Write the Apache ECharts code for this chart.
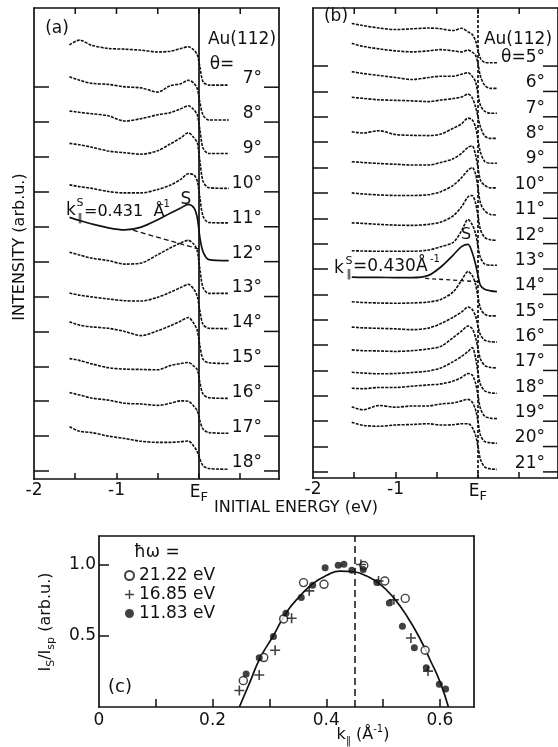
<!DOCTYPE html>
<html>
<head>
<meta charset="utf-8">
<title>Au(112) surface state</title>
<script src="https://cdn.jsdelivr.net/npm/echarts@6/dist/echarts.min.js"></script>
<style>
html, body { margin: 0; padding: 0; background: #fff; }
#chart { width: 558px; height: 747px; }
</style>
</head>
<body>
<div id="chart"></div>
<script>
// ---- panel (a) / (b): energy distribution curves, one per angle ----
// values are in tick units above each curve's own baseline tick
const energyA = [-1.57, -1.45, -1.3, -1.1, -0.9, -0.7, -0.5, -0.35, -0.22, -0.13, -0.06, -0.02, 0.01, 0.05, 0.12, 0.36]
const thetaA = [7, 8, 9, 10, 11, 12, 13, 14, 15, 16, 17, 18]
const specA07 = [1.21, 1.35, 1.20, 1.11, 1.09, 1.06, 1.01, 1.03, 1.11, 1.16, 1.06, 0.92, 0.60, 0.15, 0.06, 0.06]
const specA08 = [1.30, 1.20, 1.11, 1.08, 1.01, 0.98, 0.86, 1.04, 1.10, 1.20, 1.11, 0.95, 0.58, 0.20, 0.06, 0.06]
const specA09 = [1.32, 1.28, 1.24, 1.18, 1.03, 1.10, 1.21, 1.27, 1.38, 1.47, 1.35, 1.20, 0.80, 0.25, 0.10, 0.10]
const specA10 = [1.39, 1.35, 1.28, 1.17, 1.12, 1.08, 1.18, 1.37, 1.55, 1.69, 1.55, 1.40, 0.90, 0.30, 0.12, 0.10]
const specA11 = [1.20, 1.15, 1.10, 1.01, 0.97, 0.97, 1.07, 1.19, 1.36, 1.52, 1.48, 1.30, 0.85, 0.30, 0.12, 0.11]
const specA12 = [1.27, 1.18, 1.08, 0.97, 0.91, 0.99, 1.20, 1.39, 1.54, 1.64, 1.54, 1.25, 0.70, 0.28, 0.06, 0.03]
const specA13 = [1.27, 1.19, 1.10, 1.03, 0.93, 0.96, 1.20, 1.39, 1.54, 1.61, 1.49, 1.30, 0.80, 0.25, 0.09, 0.09]
const specA14 = [1.10, 1.04, 0.99, 0.93, 0.88, 0.87, 0.98, 1.12, 1.26, 1.35, 1.20, 1.00, 0.60, 0.20, 0.09, 0.08]
const specA15 = [1.28, 1.18, 1.13, 1.09, 1.00, 0.88, 1.02, 1.16, 1.30, 1.40, 1.22, 1.02, 0.60, 0.20, 0.10, 0.08]
const specA16 = [1.22, 1.17, 1.07, 0.96, 0.92, 0.91, 0.90, 1.02, 1.08, 1.11, 1.00, 0.90, 0.55, 0.20, 0.10, 0.08]
const specA17 = [1.25, 1.18, 1.09, 1.03, 0.94, 0.92, 0.88, 0.94, 1.01, 1.00, 0.85, 0.72, 0.45, 0.20, 0.10, 0.08]
const specA18 = [1.27, 1.14, 1.10, 1.00, 0.93, 0.85, 0.82, 0.82, 0.84, 0.86, 0.70, 0.55, 0.35, 0.15, 0.07, 0.05]
const spectraA = [specA07, specA08, specA09, specA10, specA11, specA12, specA13, specA14, specA15, specA16, specA17, specA18]
const surfaceThetaA = 12
const backgroundA = [[-0.8, 0.9], [0.0, 0.36]]

const energyB = [-1.53, -1.4, -1.2, -1.0, -0.8, -0.6, -0.45, -0.3, -0.2, -0.12, -0.07, -0.03, 0.0, 0.03, 0.08, 0.15, 0.23]
const thetaB = [5, 6, 7, 8, 9, 10, 11, 12, 13, 14, 15, 16, 17, 18, 19, 20, 21]
const specB05 = [1.68, 1.60, 1.50, 1.44, 1.47, 1.50, 1.47, 1.40, 1.49, 1.35, 1.25, 1.00, 0.65, 0.30, 0.15, 0.13, 0.13]
const specB06 = [1.90, 1.78, 1.68, 1.60, 1.56, 1.60, 1.65, 1.60, 1.56, 1.63, 1.55, 1.43, 1.10, 0.60, 0.25, 0.12, 0.12]
const specB07 = [1.78, 1.71, 1.63, 1.55, 1.47, 1.55, 1.60, 1.60, 1.68, 1.74, 1.60, 1.38, 0.90, 0.45, 0.22, 0.14, 0.14]
const specB08 = [1.77, 1.73, 1.67, 1.65, 1.63, 1.60, 1.66, 1.72, 1.78, 1.90, 1.75, 1.40, 1.00, 0.60, 0.25, 0.15, 0.15]
const specB09 = [1.41, 1.36, 1.45, 1.30, 1.27, 1.26, 1.32, 1.55, 1.72, 1.95, 1.88, 1.60, 1.10, 0.60, 0.25, 0.17, 0.17]
const specB10 = [1.23, 1.20, 1.16, 1.13, 1.10, 1.10, 1.20, 1.35, 1.56, 1.80, 1.85, 1.50, 1.00, 0.50, 0.30, 0.20, 0.20]
const specB11 = [1.00, 0.96, 0.92, 0.90, 0.90, 0.93, 1.05, 1.30, 1.60, 1.90, 2.00, 1.75, 1.20, 0.60, 0.30, 0.15, 0.13]
const specB12 = [0.82, 0.80, 0.76, 0.73, 0.72, 0.76, 0.85, 1.10, 1.45, 1.85, 1.90, 1.60, 1.10, 0.55, 0.25, 0.15, 0.13]
const specB13 = [0.72, 0.71, 0.70, 0.70, 0.70, 0.75, 0.88, 1.05, 1.50, 1.95, 1.75, 1.40, 0.90, 0.45, 0.20, 0.15, 0.15]
const specB14 = [0.68, 0.67, 0.67, 0.66, 0.66, 0.75, 1.08, 1.55, 1.88, 1.97, 1.65, 1.20, 0.75, 0.35, 0.20, 0.14, 0.11]
const specB15 = [0.71, 0.68, 0.66, 0.65, 0.66, 0.70, 0.80, 1.10, 1.55, 1.90, 1.75, 1.40, 0.90, 0.45, 0.22, 0.15, 0.15]
const specB16 = [0.71, 0.68, 0.66, 0.64, 0.61, 0.67, 0.85, 1.10, 1.30, 1.50, 1.40, 1.15, 0.75, 0.40, 0.20, 0.13, 0.12]
const specB17 = [0.81, 0.78, 0.77, 0.75, 0.78, 0.85, 0.95, 1.30, 1.55, 1.75, 1.65, 1.30, 0.85, 0.45, 0.20, 0.12, 0.10]
const specB18 = [0.93, 0.90, 0.87, 0.88, 0.92, 0.98, 1.10, 1.35, 1.55, 1.75, 1.90, 1.50, 0.90, 0.45, 0.20, 0.12, 0.10]
const specB19 = [1.30, 1.28, 1.33, 1.33, 1.38, 1.43, 1.47, 1.58, 1.72, 1.88, 1.82, 1.50, 1.00, 0.50, 0.20, 0.12, 0.10]
const specB20 = [1.57, 1.45, 1.62, 1.55, 1.60, 1.60, 1.68, 1.72, 1.80, 1.86, 1.75, 1.45, 1.00, 0.45, 0.20, 0.15, 0.13]
const specB21 = [1.96, 1.84, 1.80, 1.85, 1.87, 1.90, 1.85, 1.86, 1.90, 1.90, 1.75, 1.45, 1.00, 0.50, 0.20, 0.12, 0.10]
const spectraB = [specB05, specB06, specB07, specB08, specB09, specB10, specB11, specB12, specB13, specB14,
  specB15, specB16, specB17, specB18, specB19, specB20, specB21]
const surfaceThetaB = 14
const backgroundB = [[-0.64, 0.63], [0.0, 0.5]]

const energyTicks = [-1.5, -1, -0.5, 0, 0.5]
const energyLabels = [-2, -1, 0]

// ---- panel (c): surface state intensity vs k parallel ----
const kTicks = [0.1, 0.2, 0.3, 0.4, 0.5, 0.6]
const kLabels = [0, 0.2, 0.4, 0.6]
const ratioTicks = [0.5, 1.0]
const pts2122 = [[0.254, 0.185], [0.290, 0.347], [0.325, 0.618], [0.360, 0.873], [0.396, 0.861], [0.466, 0.993],
  [0.503, 0.884], [0.539, 0.762], [0.574, 0.398]]
const pts1685 = [[0.247, 0.116], [0.282, 0.225], [0.310, 0.398], [0.339, 0.623], [0.370, 0.815], [0.461, 1.0],
  [0.492, 0.884], [0.519, 0.752], [0.549, 0.484], [0.579, 0.252]]
const pts1183 = [[0.259, 0.231], [0.282, 0.345], [0.307, 0.495], [0.329, 0.658], [0.356, 0.769], [0.376, 0.854],
  [0.398, 0.977], [0.421, 0.995], [0.431, 1.002], [0.445, 0.960], [0.465, 0.965], [0.489, 0.873], [0.511, 0.729],
  [0.534, 0.567], [0.555, 0.415], [0.576, 0.276], [0.599, 0.160], [0.610, 0.127]]
const fitCurve = [[0.247, 0.0], [0.266, 0.178], [0.283, 0.34], [0.307, 0.502], [0.330, 0.665], [0.354, 0.78],
  [0.377, 0.868], [0.401, 0.924], [0.424, 0.954], [0.448, 0.949], [0.471, 0.919], [0.495, 0.861], [0.518, 0.769],
  [0.542, 0.637], [0.565, 0.479], [0.583, 0.328], [0.600, 0.178], [0.615, 0.0]]
const kSurface = 0.446

const FONT = 'DejaVu Sans'
const INK = '#111'
const plusPath = 'path://M4.2,0H5.8V4.2H10V5.8H5.8V10H4.2V5.8H0V4.2H4.2Z'

const chart = echarts.init(document.getElementById('chart'))

const offsetsA = thetaA.map(t => 18 - t)
const offsetsB = thetaB.map(t => 21 - t)
const energyRange = [-2, 0.97]
const rangeA = [-0.23, 13.27]
const rangeB = [-0.24, 18.29]
const boxA = { left: 34, top: 8, width: 245, height: 471 }
const boxB = { left: 313, top: 8, width: 245, height: 470 }

const frame = { show: true, onZero: false, lineStyle: { color: INK, width: 1.7 } }
const tickStyle = { color: INK, width: 1.5 }

function energyAxis (grid, pos, withLabels) {
  return {
    type: 'value', gridIndex: grid, position: pos, min: energyRange[0], max: energyRange[1],
    axisLine: frame,
    axisTick: { show: withLabels, inside: true, length: 6, customValues: energyTicks, lineStyle: tickStyle },
    axisLabel: {
      show: withLabels, customValues: energyLabels, margin: 3, color: INK, fontFamily: FONT, fontSize: 17,
      formatter: v => v === 0 ? '{e|E}{f|F}' : String(v),
      rich: {
        e: { fontSize: 17, fontFamily: FONT, color: INK, lineHeight: 22 },
        f: { fontSize: 13, fontFamily: FONT, color: INK, lineHeight: 12, verticalAlign: 'bottom' }
      }
    },
    splitLine: { show: false }
  }
}

function stackAxis (grid, pos, range, offsets, formatter, margin) {
  return {
    type: 'value', gridIndex: grid, position: pos, min: range[0], max: range[1],
    axisLine: frame,
    axisTick: { show: !formatter, inside: true, length: 15, customValues: offsets, lineStyle: tickStyle },
    axisLabel: formatter ? {
      show: true, inside: true, customValues: offsets, formatter, margin, verticalAlign: 'bottom',
      color: INK, fontFamily: FONT, fontSize: 17
    } : { show: false },
    splitLine: { show: false }
  }
}

function spectrum (energies, values, offset, axis, solid) {
  return {
    type: 'line', xAxisIndex: axis, yAxisIndex: axis,
    data: energies.map((e, i) => [e, values[i] + offset]),
    symbol: 'none', smooth: 0.3, silent: true,
    lineStyle: { color: INK, width: solid ? 1.7 : 1.6, type: solid ? 'solid' : [3, 1.2] }
  }
}

const series = []
spectraA.forEach((vals, i) => {
  const s = spectrum(energyA, vals, offsetsA[i], 0, thetaA[i] === surfaceThetaA)
  if (i === 0) {
    s.markLine = { symbol: 'none', silent: true, label: { show: false },
      lineStyle: { color: INK, width: 1.7, type: 'solid' }, data: [{ xAxis: 0 }] }
  }
  series.push(s)
})
spectraB.forEach((vals, i) => {
  const s = spectrum(energyB, vals, offsetsB[i], 2, thetaB[i] === surfaceThetaB)
  if (i === 0) {
    s.markLine = { symbol: 'none', silent: true, label: { show: false },
      lineStyle: { color: INK, width: 1.7, type: [3, 2] }, data: [{ xAxis: 0 }] }
  }
  series.push(s)
})
series.push({
  type: 'line', xAxisIndex: 0, yAxisIndex: 0, symbol: 'none', silent: true,
  data: backgroundA.map(p => [p[0], p[1] + 18 - surfaceThetaA]),
  lineStyle: { color: INK, width: 1.3, type: [5, 3] }
})
series.push({
  type: 'line', xAxisIndex: 2, yAxisIndex: 2, symbol: 'none', silent: true,
  data: backgroundB.map(p => [p[0], p[1] + 21 - surfaceThetaB]),
  lineStyle: { color: INK, width: 1.3, type: [4, 3] }
})

series.push({
  type: 'line', xAxisIndex: 4, yAxisIndex: 4, data: fitCurve, symbol: 'none', smooth: true, silent: true,
  lineStyle: { color: INK, width: 1.7 },
  markLine: { symbol: 'none', silent: true, label: { show: false },
    lineStyle: { color: INK, width: 1.5, type: [7, 4] }, data: [{ xAxis: kSurface }] }
})
series.push({
  name: '21.22 eV', type: 'scatter', xAxisIndex: 4, yAxisIndex: 4, data: pts2122,
  symbol: 'circle', symbolSize: 8, itemStyle: { color: '#fff', borderColor: INK, borderWidth: 1.4 }, z: 4
})
series.push({
  name: '16.85 eV', type: 'scatter', xAxisIndex: 4, yAxisIndex: 4, data: pts1685,
  symbol: plusPath, symbolSize: 10, itemStyle: { color: INK }, z: 4
})
series.push({
  name: '11.83 eV', type: 'scatter', xAxisIndex: 4, yAxisIndex: 4, data: pts1183,
  symbol: 'circle', symbolSize: 7, itemStyle: { color: INK }, z: 4
})

function txt (x, y, text, size, more) {
  const style = Object.assign({
    text, fill: INK, fontSize: size, fontFamily: FONT,
    align: 'center', verticalAlign: 'middle', textAlign: 'center', textVerticalAlign: 'middle'
  }, more || {})
  return { type: 'text', x, y, silent: true, style }
}

const graphics = [
  txt(57, 29, '(a)', 17),
  txt(336, 17, '(b)', 17),
  txt(242, 40, 'Au(112)', 17),
  txt(518, 40, 'Au(112)', 17),
  txt(222, 65, 'θ=', 17),
  Object.assign(txt(20, 247, 'INTENSITY (arb.u.)', 16), { rotation: Math.PI / 2 }),
  txt(296, 508, 'INITIAL ENERGY (eV)', 16),
  // k labels
  txt(71, 211, 'k', 17),
  txt(80, 203, 'S', 11),
  txt(80, 218, '\u2016', 10),
  txt(84, 212, '=0.431  Å', 16, { align: 'left', textAlign: 'left' }),
  txt(160, 204, '-1', 10, { align: 'left', textAlign: 'left' }),
  txt(186, 200, 'S', 17),
  txt(339, 269, 'k', 17),
  txt(349, 261, 'S', 11),
  txt(349, 274, '\u2016', 10),
  txt(353, 267, '=0.430Å', 17, { align: 'left', textAlign: 'left' }),
  txt(430, 259, '-1', 10, { align: 'left', textAlign: 'left' }),
  txt(466, 235, 'S', 16),
  // panel (c)
  txt(134, 553, 'ħω =', 17, { align: 'left', textAlign: 'left' }),
  txt(120, 687, '(c)', 18),
  Object.assign(txt(46, 622, '{a|I}{b|S}{a|/I}{b|sp}{a| (arb.u.)}', 16, {
    rich: {
      a: { fontSize: 16, fontFamily: FONT, fill: INK, lineHeight: 22 },
      b: { fontSize: 11, fontFamily: FONT, fill: INK, lineHeight: 12, verticalAlign: 'bottom' }
    }
  }), { rotation: Math.PI / 2 }),
  txt(363, 735, '{a|k}{b|\u2016}{a| (Å}{c|-1}{a|)}', 16, {
    rich: {
      a: { fontSize: 16, fontFamily: FONT, fill: INK, lineHeight: 22 },
      b: { fontSize: 10, fontFamily: FONT, fill: INK, lineHeight: 12, verticalAlign: 'bottom' },
      c: { fontSize: 10, fontFamily: FONT, fill: INK, lineHeight: 12, verticalAlign: 'top' }
    }
  })
]

const option = {
  animation: false,
  backgroundColor: '#fff',
  grid: [
    Object.assign({ outerBoundsMode: 'none' }, boxA),
    Object.assign({ outerBoundsMode: 'none' }, boxB),
    { left: 99, top: 536, width: 375, height: 171, outerBoundsMode: 'none' }
  ],
  xAxis: [
    energyAxis(0, 'bottom', true),
    energyAxis(0, 'top', false),
    energyAxis(1, 'bottom', true),
    energyAxis(1, 'top', false),
    {
      type: 'value', gridIndex: 2, position: 'bottom', min: 0, max: 0.66,
      axisLine: frame,
      axisTick: { show: true, inside: true, length: 8, customValues: kTicks, lineStyle: tickStyle },
      axisLabel: { customValues: kLabels, margin: 5, color: INK, fontFamily: FONT, fontSize: 17,
        formatter: v => v === 0 ? '0' : v.toFixed(1) },
      splitLine: { show: false }
    },
    { type: 'value', gridIndex: 2, position: 'top', min: 0, max: 0.66, axisLine: frame,
      axisTick: { show: false }, axisLabel: { show: false }, splitLine: { show: false } }
  ],
  yAxis: [
    stackAxis(0, 'left', rangeA, offsetsA, null),
    stackAxis(0, 'right', rangeA, offsetsA, v => (18 - v) + '°', 17),
    stackAxis(1, 'left', rangeB, offsetsB, null),
    stackAxis(1, 'right', rangeB, offsetsB, v => (21 - v === 5 ? 'θ=5' : String(21 - v)) + '°', 13),
    {
      type: 'value', gridIndex: 2, position: 'left', min: 0, max: 1.2,
      axisLine: frame,
      axisTick: { show: true, inside: true, length: 10, customValues: ratioTicks, lineStyle: tickStyle },
      axisLabel: { customValues: ratioTicks, margin: 3, color: INK, fontFamily: FONT, fontSize: 17,
        formatter: v => v.toFixed(1) },
      splitLine: { show: false }
    },
    { type: 'value', gridIndex: 2, position: 'right', min: 0, max: 1.2, axisLine: frame,
      axisTick: { show: false }, axisLabel: { show: false }, splitLine: { show: false } }
  ],
  legend: {
    left: 119, top: 562, orient: 'vertical', itemWidth: 9, itemHeight: 9, itemGap: 2,
    selectedMode: false,
    textStyle: { fontSize: 17, fontFamily: FONT, color: INK },
    data: ['21.22 eV', '16.85 eV', '11.83 eV']
  },
  graphic: graphics,
  series
}

chart.setOption(option)

// ticks on the top and right frame of panels (a) and (b), placed through the grid's own scales
function frameTicks (gridIndex, yRange, offsets) {
  const els = []
  offsets.forEach(o => {
    const p = chart.convertToPixel({ gridIndex }, [energyRange[1], o])
    els.push({ type: 'line', silent: true, shape: { x1: p[0] - 15, y1: p[1], x2: p[0], y2: p[1] },
      style: { stroke: INK, lineWidth: 1.5 } })
  })
  energyTicks.forEach(e => {
    const p = chart.convertToPixel({ gridIndex }, [e, yRange[1]])
    els.push({ type: 'line', silent: true, shape: { x1: p[0], y1: p[1], x2: p[0], y2: p[1] + 6 },
      style: { stroke: INK, lineWidth: 1.5 } })
  })
  return els
}

try {
  chart.setOption({
    graphic: graphics.concat(frameTicks(0, rangeA, offsetsA), frameTicks(1, rangeB, offsetsB))
  })
} catch (err) {
  console.warn('frame ticks skipped', err)
}
</script>
</body>
</html>
